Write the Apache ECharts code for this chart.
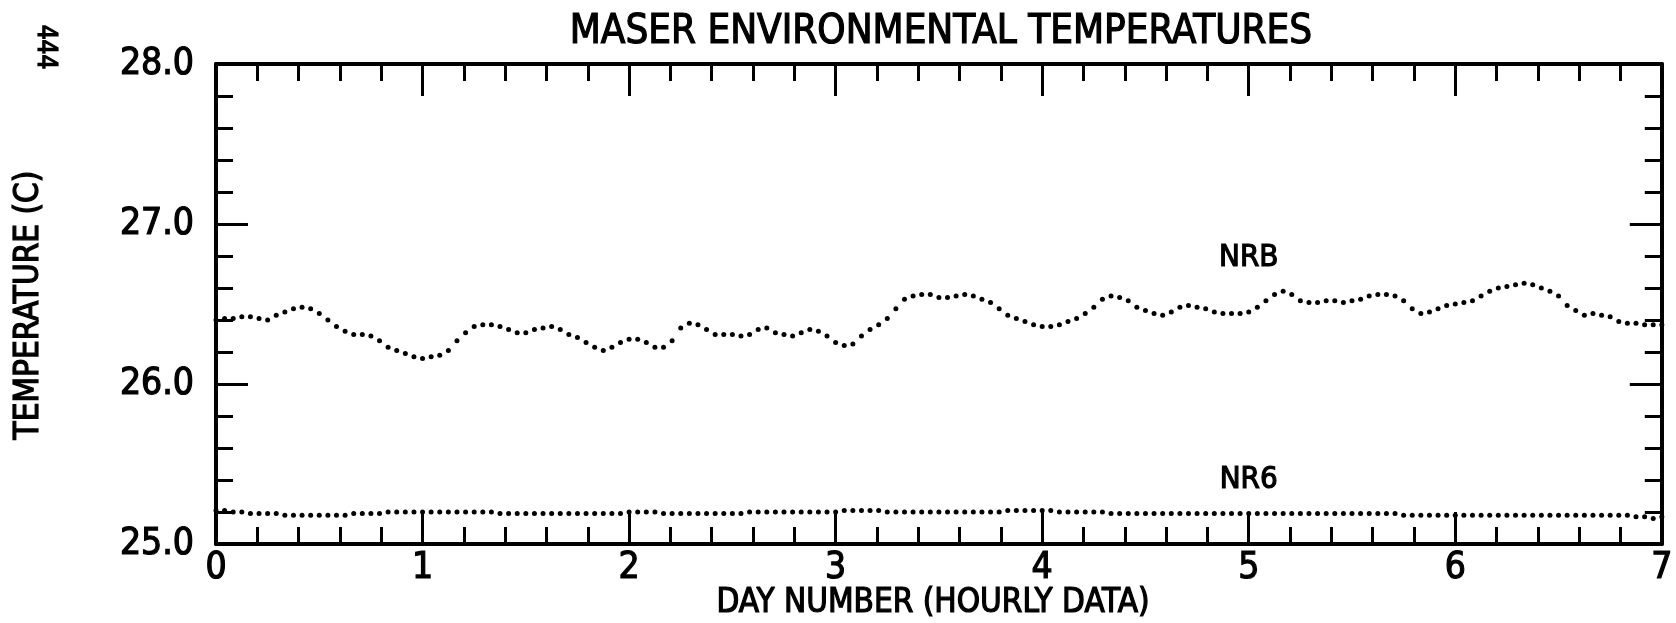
<!DOCTYPE html>
<html><head><meta charset="utf-8">
<script src="https://cdn.jsdelivr.net/npm/echarts@6/dist/echarts.min.js"></script>
<style>html,body{margin:0;padding:0;background:#fff}#c{width:1676px;height:623px}</style>
</head><body><div id="c"></div>
<script>
const TITLE = 'MASER ENVIRONMENTAL TEMPERATURES';
const X_NAME = 'DAY NUMBER (HOURLY DATA)';
const Y_NAME = 'TEMPERATURE (C)';
const PAGE_NO = '444';
const HOURS_PER_DAY = 24;
// NRB, hourly, day 0..7
const nrb = [
26.40,26.41,26.41,26.42,26.42,26.41,26.40,26.43,26.45,26.47,26.48,26.47,26.44,26.40,26.36,26.33,26.31,26.31,26.30,26.27,26.23,26.21,26.19,26.17,
26.16,26.17,26.18,26.21,26.27,26.32,26.36,26.37,26.37,26.36,26.34,26.32,26.32,26.34,26.35,26.36,26.34,26.31,26.29,26.26,26.23,26.21,26.23,26.26,
26.28,26.28,26.26,26.23,26.23,26.27,26.35,26.38,26.37,26.34,26.31,26.31,26.31,26.30,26.31,26.34,26.35,26.32,26.31,26.30,26.32,26.34,26.33,26.30,
26.26,26.24,26.25,26.30,26.34,26.37,26.41,26.47,26.53,26.55,26.56,26.56,26.54,26.54,26.55,26.56,26.55,26.53,26.51,26.47,26.43,26.41,26.39,26.37,
26.36,26.36,26.37,26.39,26.41,26.44,26.48,26.53,26.55,26.54,26.52,26.48,26.46,26.44,26.43,26.45,26.48,26.49,26.48,26.47,26.45,26.44,26.44,26.44,
26.45,26.48,26.52,26.56,26.58,26.56,26.52,26.51,26.51,26.52,26.52,26.51,26.52,26.53,26.55,26.56,26.56,26.55,26.52,26.47,26.44,26.45,26.47,26.49,
26.50,26.51,26.52,26.55,26.58,26.60,26.61,26.62,26.63,26.62,26.60,26.58,26.55,26.49,26.46,26.43,26.44,26.43,26.42,26.39,26.38,26.38,26.37,26.37,26.37
];
// NR6, hourly, day 0..7
const nr6 = [
25.21,25.21,25.20,25.20,25.19,25.19,25.19,25.19,25.18,25.18,25.18,25.18,25.18,25.18,25.18,25.18,25.19,25.19,25.19,25.19,25.20,25.20,25.20,25.20,
25.20,25.20,25.20,25.20,25.20,25.20,25.20,25.20,25.20,25.19,25.19,25.19,25.19,25.19,25.19,25.19,25.19,25.19,25.19,25.19,25.19,25.19,25.19,25.19,
25.20,25.20,25.20,25.20,25.19,25.19,25.19,25.19,25.19,25.19,25.19,25.19,25.19,25.19,25.20,25.20,25.20,25.20,25.20,25.20,25.20,25.20,25.20,25.20,
25.20,25.21,25.21,25.21,25.21,25.21,25.20,25.20,25.20,25.20,25.20,25.20,25.20,25.20,25.20,25.20,25.20,25.20,25.20,25.20,25.21,25.21,25.21,25.21,
25.21,25.21,25.20,25.20,25.20,25.20,25.20,25.20,25.19,25.19,25.19,25.19,25.19,25.19,25.19,25.19,25.19,25.19,25.19,25.19,25.19,25.19,25.19,25.19,
25.19,25.19,25.19,25.19,25.19,25.19,25.19,25.19,25.19,25.19,25.19,25.19,25.19,25.19,25.19,25.19,25.19,25.19,25.18,25.18,25.18,25.18,25.18,25.18,
25.18,25.18,25.18,25.18,25.18,25.18,25.18,25.18,25.18,25.18,25.18,25.18,25.18,25.18,25.18,25.18,25.18,25.18,25.18,25.18,25.18,25.17,25.17,25.16,25.17
];
const seriesNames = ['NRB', 'NR6'];
const labelDays = [5.0, 5.0];
const labelTemps = [26.79, 25.40];
const xRange = [0, 7];
const yRange = [25, 28];

const FONT = "'DejaVu Sans Condensed', 'Liberation Sans Narrow', sans-serif";
const INK = '#000';

function toPairs(arr) { return arr.map((v, i) => [i / HOURS_PER_DAY, v]); }

function axisBase(showLabel, pos, range, fmt, margin) {
  return {
    type: 'value', position: pos, min: range[0], max: range[1], interval: 1,
    axisLine: { show: true, onZero: false, lineStyle: { color: INK, width: 4 } },
    axisTick: { show: true, inside: true, length: 32, lineStyle: { color: INK, width: 3 } },
    minorTick: { show: true, splitNumber: 5, length: 17, lineStyle: { color: INK, width: 3 } },
    splitLine: { show: false }, minorSplitLine: { show: false },
    axisLabel: { show: showLabel, margin: margin, fontSize: 37, fontFamily: FONT, color: INK,
      textBorderColor: INK, textBorderWidth: 1.2, formatter: fmt }
  };
}

const chart = echarts.init(document.getElementById('c'), null, { renderer: 'canvas' });
const dotSeries = (name, arr, idx) => ({
  name: name, type: 'line', data: toPairs(arr),
  symbol: 'circle', symbolSize: 5, showSymbol: true, showAllSymbol: true,
  lineStyle: { width: 0, opacity: 0 }, itemStyle: { color: INK },
  animation: false, silent: true, z: 5,
  markPoint: {
    symbol: 'circle', symbolSize: 0, silent: true, animation: false,
    label: { show: true, position: 'inside', formatter: name, fontSize: 31, fontFamily: FONT, color: INK,
      textBorderColor: INK, textBorderWidth: 1.2 },
    data: [{ coord: [labelDays[idx], labelTemps[idx]] }]
  }
});

function txt(text, x, y, size, rot) {
  return { type: 'text', x: x, y: y, rotation: rot || 0,
    style: { text: text, font: size + "px " + FONT, fill: INK, stroke: INK, lineWidth: 1.2,
      align: 'center', verticalAlign: 'middle', textAlign: 'center', textVerticalAlign: 'middle' } };
}

chart.setOption({
  backgroundColor: '#fff',
  animation: false,
  grid: { left: 216, right: 13, top: 64, bottom: 79, containLabel: false },
  xAxis: [
    axisBase(true, 'bottom', xRange, v => String(v), 6),
    axisBase(false, 'top', xRange, null, 6)
  ],
  yAxis: [
    axisBase(true, 'left', yRange, v => v.toFixed(1), 22),
    axisBase(false, 'right', yRange, null, 22)
  ],
  series: [dotSeries(seriesNames[0], nrb, 0), dotSeries(seriesNames[1], nr6, 1)],
  graphic: [
    txt(TITLE, 941, 33, 40),
    txt(X_NAME, 933, 603, 33),
    txt(Y_NAME, 29, 305, 33, Math.PI / 2),
    txt(PAGE_NO, 45, 47, 26, -Math.PI / 2)
  ]
});
</script></body></html>
